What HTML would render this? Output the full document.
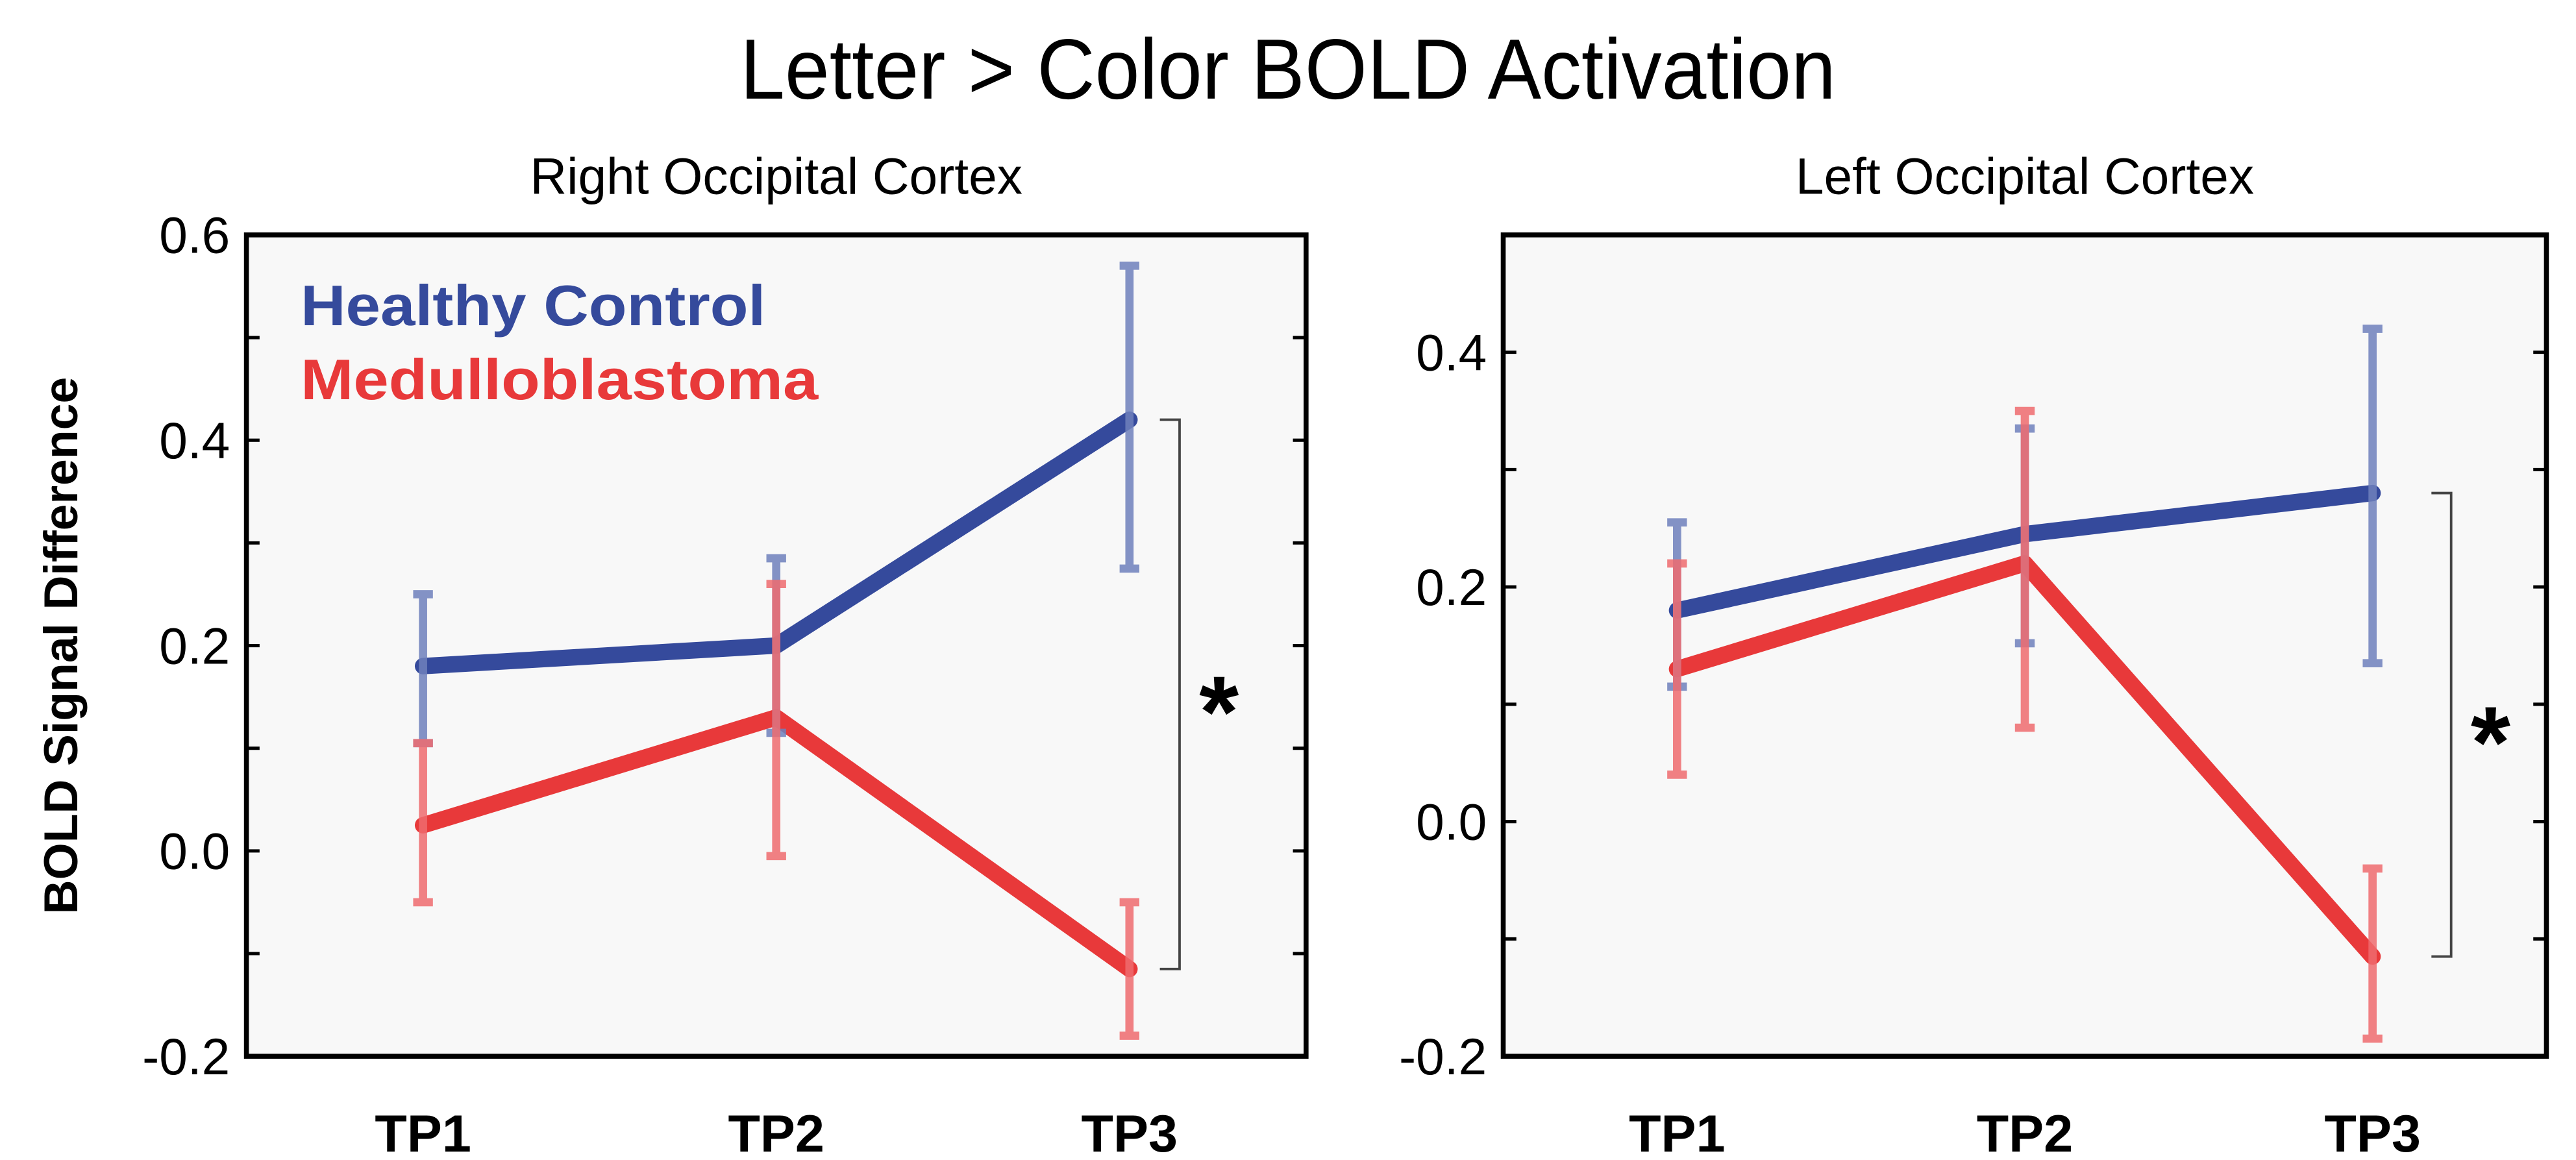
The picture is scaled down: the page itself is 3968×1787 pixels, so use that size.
<!DOCTYPE html>
<html><head><meta charset="utf-8"><style>
html,body{margin:0;padding:0;background:#fff;}
svg{display:block;font-family:"Liberation Sans",Arial,sans-serif;}
</style></head><body>
<svg id="chart" width="3968" height="1787" viewBox="0 0 1568 706.15" xmlns="http://www.w3.org/2000/svg">
<text x="784" y="60" font-size="52" text-anchor="middle" transform="translate(784,0) scale(0.94,1) translate(-784,0)">Letter &gt; Color BOLD Activation</text>
<text transform="translate(47,393) rotate(-90)" font-size="29" font-weight="bold" text-anchor="middle">BOLD Signal Difference</text>
<g id="panels"></g>
</svg>
<script>
const categories = ["TP1","TP2","TP3"];
const leftHC = [0.18, 0.20, 0.42];
const leftHCLo = [0.105, 0.115, 0.275];
const leftHCHi = [0.25, 0.285, 0.57];
const leftMB = [0.025, 0.13, -0.115];
const leftMBLo = [-0.05, -0.005, -0.18];
const leftMBHi = [0.105, 0.26, -0.05];
const rightHC = [0.18, 0.245, 0.28];
const rightHCLo = [0.115, 0.152, 0.135];
const rightHCHi = [0.255, 0.335, 0.42];
const rightMB = [0.13, 0.22, -0.115];
const rightMBLo = [0.04, 0.08, -0.185];
const rightMBHi = [0.22, 0.35, -0.04];
const leftTicks = ["-0.2","0.0","0.2","0.4","0.6"];
const rightTicks = ["-0.2","0.0","0.2","0.4"];

const NS="http://www.w3.org/2000/svg";
const root=document.getElementById('panels');
function mk(tag,attrs,parent,text){const e=document.createElementNS(NS,tag);for(const k in attrs)e.setAttribute(k,attrs[k]);if(text!==undefined)e.textContent=text;(parent||root).appendChild(e);return e;}

function panel(cfg){
  const g=mk('g',{});
  
  
  const x0=cfg.x0,x1=cfg.x1,y0=143,y1=643;
  const ys=v=>y1-(v-cfg.ymin)/(cfg.ymax-cfg.ymin)*(y1-y0);
  const xs=i=>x0+(x1-x0)*(2*i+1)/6;
  const t=mk('text',{x:(x0+x1)/2,y:118,'font-size':31,'text-anchor':'middle'},g,cfg.title);
  
  
  const bg=mk('rect',{x:x0,y:y0,width:x1-x0,height:y1-y0,fill:'#f8f8f8',stroke:'#000','stroke-width':3},g);
  
  
  for(let v=Math.round(cfg.ymin*10);v<=Math.round(cfg.ymax*10);v++){
    const y=ys(v/10);
    const tk=mk('path',{d:`M${x0},${y}h8M${x1},${y}h-8`,stroke:'#000','stroke-width':2},g);
    
    
  }
  cfg.ticks.forEach(s=>{
    const lb=mk('text',{x:x0-10,y:ys(parseFloat(s))+11,'font-size':31,'text-anchor':'end'},g,s);
    
    
  });
  categories.forEach((c,i)=>{
    const lb=mk('text',{x:xs(i),y:701,'font-size':32,'font-weight':'bold','text-anchor':'middle'},g,c);
    
    
  });
  const bx=cfg.bx, ya=ys(cfg.hc[2]), yb=ys(cfg.mb[2]);
  const br=mk('path',{d:`M${bx-12},${ya}H${bx}V${yb}H${bx-12}`,fill:'none',stroke:'#444','stroke-width':1.5},g);
  
  
  const st=mk('text',{x:bx+24,y:(ya+yb)/2+32,'font-size':62,'font-weight':'bold','text-anchor':'middle'},g,'*');
  
  
  const series=[
    {v:cfg.hc,lo:cfg.hcLo,hi:cfg.hcHi,c:'#354a9c',ec:'#6f80bc',n:'healthy-control'},
    {v:cfg.mb,lo:cfg.mbLo,hi:cfg.mbHi,c:'#e8393a',ec:'#ef6b6e',n:'medulloblastoma'}];
  series.forEach(s=>{
    const pts=s.v.map((v,i)=>xs(i)+','+ys(v)).join(' ');
    const ln=mk('polyline',{points:pts,fill:'none',stroke:s.c,'stroke-width':10,'stroke-linejoin':'round','stroke-linecap':'round'},g);
    
    
  });
  series.forEach(s=>{
    s.v.forEach((v,i)=>{
      const x=xs(i),a=ys(s.lo[i]),b=ys(s.hi[i]);
      const eb=mk('path',{d:`M${x},${a}V${b}M${x-6},${a}h12M${x-6},${b}h12`,stroke:s.ec,'stroke-width':5,'stroke-opacity':0.85,fill:'none'},g);
      
      
    });
  });
  return g;
}
panel({name:'right-occipital-panel',title:'Right Occipital Cortex',x0:150,x1:795,ymin:-0.2,ymax:0.6,ticks:leftTicks,
  hc:leftHC,hcLo:leftHCLo,hcHi:leftHCHi,mb:leftMB,mbLo:leftMBLo,mbHi:leftMBHi,bx:718});
panel({name:'left-occipital-panel',title:'Left Occipital Cortex',x0:915,x1:1550,ymin:-0.2,ymax:0.5,ticks:rightTicks,
  hc:rightHC,hcLo:rightHCLo,hcHi:rightHCHi,mb:rightMB,mbLo:rightMBLo,mbHi:rightMBHi,bx:1492});
const l1=mk('text',{x:183,y:198,'font-size':35,'font-weight':'bold',fill:'#354a9c',textLength:283,lengthAdjust:'spacingAndGlyphs'},root,'Healthy Control');


const l2=mk('text',{x:183,y:243,'font-size':35,'font-weight':'bold',fill:'#e8393a',textLength:315,lengthAdjust:'spacingAndGlyphs'},root,'Medulloblastoma');


</script>
</body></html>
